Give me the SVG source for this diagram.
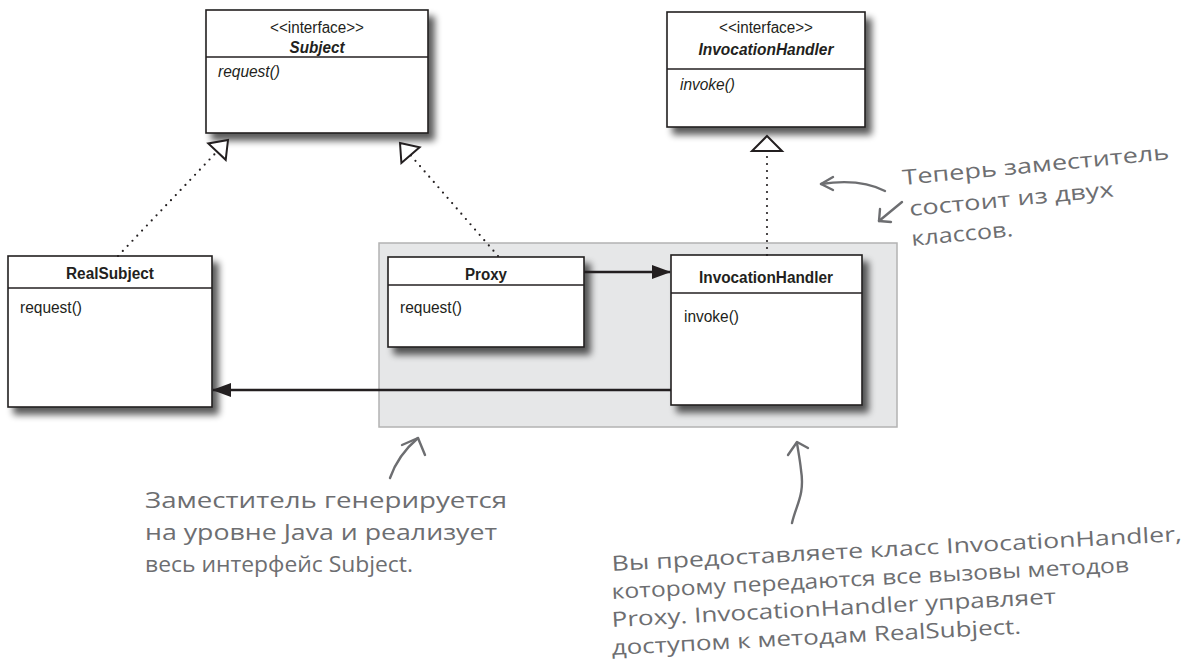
<svg xmlns="http://www.w3.org/2000/svg" width="1189" height="668" viewBox="0 0 1189 668">
<defs>
<filter id="sh" x="-10%" y="-10%" width="130%" height="130%">
<feGaussianBlur in="SourceAlpha" stdDeviation="3.5"/>
<feOffset dx="6" dy="7" result="b"/>
<feComponentTransfer><feFuncA type="linear" slope="0.65"/></feComponentTransfer>
<feMerge><feMergeNode/><feMergeNode in="SourceGraphic"/></feMerge>
</filter>
<marker id="ah" markerWidth="20" markerHeight="14" refX="18" refY="7" orient="auto" markerUnits="userSpaceOnUse">
<path d="M0,0 L19,7 L0,14 Z" fill="#231f20"/>
</marker>
</defs>
<style>
.box{fill:#fff;stroke:#231f20;stroke-width:1.6}
.div{stroke:#231f20;stroke-width:1.3}
.t{font-family:"Liberation Sans",Arial,sans-serif;font-size:16px;fill:#231f20}
.st{text-anchor:middle}
.ti{font-weight:bold;text-anchor:middle}
.it{font-style:italic}
.dot{fill:none;stroke:#231f20;stroke-width:2.2;stroke-linecap:round;stroke-dasharray:0 7}
.tri{fill:#fff;stroke:#231f20;stroke-width:2;stroke-linejoin:miter}
.sol{fill:none;stroke:#231f20;stroke-width:2.5}
.hw{font-family:"Open Sans","Noto Sans",sans-serif;font-size:21px;fill:#6d6e71}
.ha{fill:none;stroke:#6d6e71;stroke-width:2.4;stroke-linecap:round;stroke-linejoin:round}
</style>
<rect id="dynamic-proxy-area" x="379" y="243" width="518" height="184" fill="#e6e7e8" stroke="#b3b3b3" stroke-width="1.5"/>
<g id="subject">
<rect class="box" x="206" y="10" width="222" height="123" filter="url(#sh)"/>
<line class="div" x1="206" y1="57" x2="428" y2="57"/>
<text class="t st" x="317" y="33" textLength="94" lengthAdjust="spacingAndGlyphs">&lt;&lt;interface&gt;&gt;</text>
<text class="t ti it" x="317" y="53" textLength="55" lengthAdjust="spacingAndGlyphs">Subject</text>
<text class="t it" x="218" y="77" textLength="62" lengthAdjust="spacingAndGlyphs">request()</text>
</g>
<g id="invocationhandler-interface">
<rect class="box" x="667" y="12" width="198" height="115" filter="url(#sh)"/>
<line class="div" x1="667" y1="69" x2="865" y2="69"/>
<text class="t st" x="766" y="33" textLength="94" lengthAdjust="spacingAndGlyphs">&lt;&lt;interface&gt;&gt;</text>
<text class="t ti it" x="766" y="55" textLength="135" lengthAdjust="spacingAndGlyphs">InvocationHandler</text>
<text class="t it" x="680" y="90" textLength="55" lengthAdjust="spacingAndGlyphs">invoke()</text>
</g>
<g id="realsubject">
<rect class="box" x="8" y="256" width="204" height="151" filter="url(#sh)"/>
<line class="div" x1="8" y1="288" x2="212" y2="288"/>
<text class="t ti" x="110" y="279" textLength="88" lengthAdjust="spacingAndGlyphs">RealSubject</text>
<text class="t" x="20" y="313" textLength="62" lengthAdjust="spacingAndGlyphs">request()</text>
</g>
<g id="proxy">
<rect class="box" x="388" y="257" width="196" height="90" filter="url(#sh)"/>
<line class="div" x1="388" y1="285" x2="584" y2="285"/>
<text class="t ti" x="486" y="280" textLength="42" lengthAdjust="spacingAndGlyphs">Proxy</text>
<text class="t" x="400" y="313" textLength="62" lengthAdjust="spacingAndGlyphs">request()</text>
</g>
<g id="invocationhandler">
<rect class="box" x="671" y="255" width="191" height="150" filter="url(#sh)"/>
<line class="div" x1="671" y1="293" x2="862" y2="293"/>
<text class="t ti" x="766" y="283" textLength="134" lengthAdjust="spacingAndGlyphs">InvocationHandler</text>
<text class="t" x="684" y="322" textLength="55" lengthAdjust="spacingAndGlyphs">invoke()</text>
</g>
<g id="connectors">
<path class="dot" d="M118,256 L217,151.6"/>
<polygon class="tri" points="228,140 225.7,159.8 208.3,143.4"/>
<path class="dot" d="M498,256 L410.5,155.1"/>
<polygon class="tri" points="400,143 419.6,147.2 401.4,163"/>
<path class="dot" d="M767,255 L767,152"/>
<polygon class="tri" points="767,136 782,151 752,151"/>
<path class="sol" d="M584,272 L670,272" marker-end="url(#ah)"/>
<path class="sol" d="M671,390 L213,390" marker-end="url(#ah)"/>
</g>
<g id="note-top-right">
<path class="ha" d="M885,191 Q860,178 821,184"/>
<path class="ha" d="M833,177 L821,184 L833,190"/>
<path class="ha" d="M902,202 L879,221"/>
<path class="ha" d="M880,209 L879,221 L891,222"/>
<text class="hw" x="903" y="185" transform="rotate(-5.5 903 185)" textLength="268" lengthAdjust="spacingAndGlyphs">Теперь заместитель</text>
<text class="hw" x="910" y="216" transform="rotate(-5.5 910 216)" textLength="205" lengthAdjust="spacingAndGlyphs">состоит из двух</text>
<text class="hw" x="912" y="246" transform="rotate(-5.5 912 246)" textLength="102" lengthAdjust="spacingAndGlyphs">классов.</text>
</g>
<g id="note-bottom-left">
<path class="ha" d="M390,478 Q398,455 418,438"/>
<path class="ha" d="M402,445 L418,438 L425,455"/>
<text class="hw" x="145" y="508" textLength="362" lengthAdjust="spacingAndGlyphs">Заместитель генерируется</text>
<text class="hw" x="145" y="540" textLength="352" lengthAdjust="spacingAndGlyphs">на уровне Java и реализует</text>
<text class="hw" x="145" y="572" textLength="268" lengthAdjust="spacingAndGlyphs">весь интерфейс Subject.</text>
</g>
<g id="note-bottom-right">
<path class="ha" d="M792,523 C796,505 805,495 801,470 C800,460 798,450 797,443"/>
<path class="ha" d="M788,455 L797,442 L808,448"/>
<text class="hw" x="612" y="571" transform="rotate(-3 612 571)" textLength="571" lengthAdjust="spacingAndGlyphs">Вы предоставляете класс InvocationHandler,</text>
<text class="hw" x="612" y="599" transform="rotate(-3 612 599)" textLength="518" lengthAdjust="spacingAndGlyphs">которому передаются все вызовы методов</text>
<text class="hw" x="612" y="627" transform="rotate(-3 612 627)" textLength="445" lengthAdjust="spacingAndGlyphs">Proxy. InvocationHandler управляет</text>
<text class="hw" x="612" y="655" transform="rotate(-3 612 655)" textLength="410" lengthAdjust="spacingAndGlyphs">доступом к методам RealSubject.</text>
</g>
</svg>
